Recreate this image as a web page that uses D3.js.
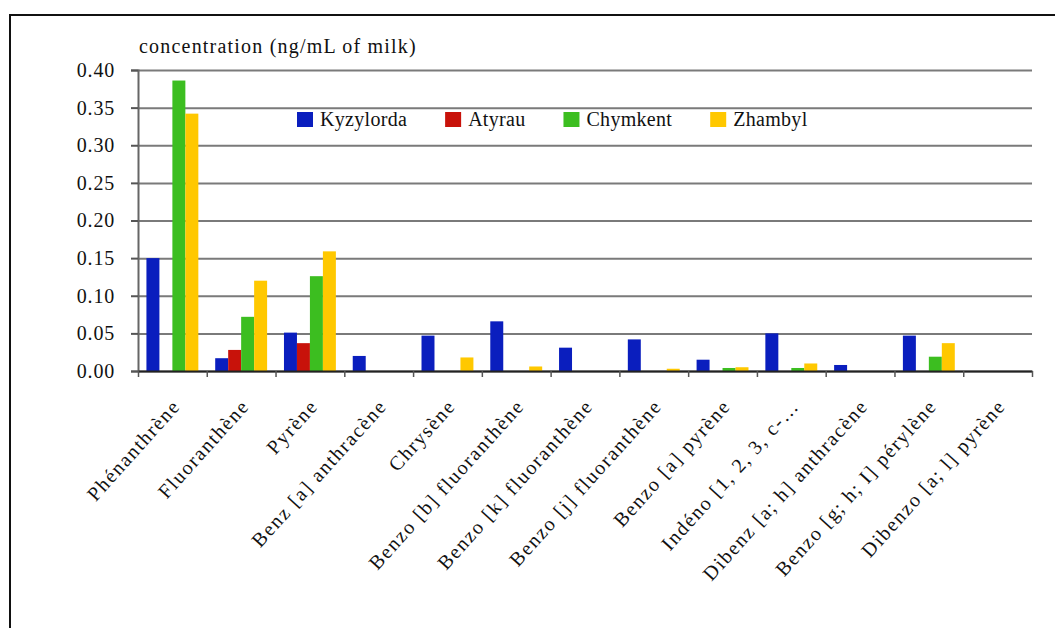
<!DOCTYPE html>
<html><head><meta charset="utf-8">
<script src="https://cdn.jsdelivr.net/npm/d3@7"></script>
<style>
body{margin:0;background:#fff;}
svg{display:block;}
svg text{font-family:'Liberation Serif','Times New Roman',Times,'DejaVu Serif',serif !important;fill:#111;}
</style></head>
<body><svg id="c" width="1055" height="628"></svg>
<script>
const categories = ["Phénanthrène","Fluoranthène","Pyrène","Benz [a] anthracène","Chrysène","Benzo [b] fluoranthène","Benzo [k] fluoranthène","Benzo [j] fluoranthène","Benzo [a] pyrène","Indéno [1, 2, 3, c-…","Dibenz [a; h] anthracène","Benzo [g; h; I] pérylène","Dibenzo [a; l] pyrène"];
const seriesNames = ["Kyzylorda","Atyrau","Chymkent","Zhambyl"];
const kyzylorda = [0.150,0.017,0.051,0.020,0.047,0.066,0.031,0.042,0.015,0.050,0.008,0.047,0];
const atyrau    = [0,0.028,0.037,0,0,0,0,0,0,0,0,0,0];
const chymkent  = [0.386,0.072,0.126,0,0,0,0,0,0.004,0.004,0,0.019,0];
const zhambyl   = [0.342,0.120,0.159,0,0.018,0.006,0,0.003,0.005,0.010,0,0.037,0];
const yTicks = [0,0.05,0.10,0.15,0.20,0.25,0.30,0.35,0.40];
const colors = ["#0a1ebe","#c8120a","#3cbe20","#ffc800"];
const seriesValues = [kyzylorda, atyrau, chymkent, zhambyl];

(function(){
const FONT = "'Liberation Serif','Times New Roman',Times,'DejaVu Serif',serif";
const svg = d3.select("#c");
// frame
svg.append("rect").attr("x",10).attr("y",15).attr("width",1100).attr("height",700)
  .attr("fill","none").attr("stroke","#111").attr("stroke-width",2);

const mLeft = 138, mRight = 1032, mTop = 70, mBottom = 371;
const x0 = d3.scaleBand().domain(categories).range([mLeft,mRight]).padding(0);
const x1 = d3.scaleBand().domain(seriesNames).range([0,x0.bandwidth()]).paddingInner(0).paddingOuter(0.65);
const y = d3.scaleLinear().domain([0,0.40]).range([mBottom,mTop]);

// gridlines
const grid = svg.append("g").attr("transform",`translate(${mLeft},0)`)
  .call(d3.axisLeft(y).tickValues(yTicks).tickSize(-(mRight-mLeft)).tickFormat(""));
grid.select(".domain").remove();
grid.selectAll("line").attr("stroke","#7a7a7a").attr("stroke-width",2);

// bars
const g = svg.append("g");
categories.forEach((c,i)=>{
  seriesNames.forEach((s,j)=>{
    const v = seriesValues[j][i];
    if(v>0){
      g.append("rect").attr("x",x0(c)+x1(s)).attr("width",x1.bandwidth())
       .attr("y",y(v)).attr("height",y(0)-y(v)).attr("fill",colors[j]);
    }
  });
});

// y axis
const ya = svg.append("g").attr("transform",`translate(${mLeft},0)`)
  .call(d3.axisLeft(y).tickValues(yTicks).tickSize(7).tickPadding(16).tickFormat(d3.format(".2f")));
ya.attr("font-family",FONT);
ya.select(".domain").attr("stroke","#666").attr("stroke-width",2);
ya.selectAll(".tick line").attr("stroke","#555").attr("stroke-width",2);
ya.selectAll("text").style("font-size","20px").style("letter-spacing","0.8px").attr("fill","#111");

// x axis line + boundary ticks
const edgeScale = d3.scaleLinear().domain([0,categories.length]).range([mLeft,mRight]);
const xe = svg.append("g").attr("transform",`translate(0,${mBottom})`)
  .call(d3.axisBottom(edgeScale).tickValues(d3.range(0,categories.length+1)).tickSize(6).tickFormat("").tickSizeOuter(0));
xe.select(".domain").attr("stroke","#222").attr("stroke-width",2);
xe.selectAll(".tick line").attr("stroke","#555").attr("stroke-width",1.5);

// x labels
const xa = svg.append("g").attr("transform",`translate(0,${mBottom})`)
  .call(d3.axisBottom(x0).tickSize(0).tickFormat(d=>d));
xa.attr("font-family",FONT);
xa.select(".domain").remove();
xa.selectAll("text")
  .style("font-size","20px").style("letter-spacing","1.6px")
  .attr("fill","#111").attr("text-anchor","end").attr("dy",null).attr("y",0)
  .attr("transform","translate(9,36) rotate(-48)");

// title
svg.append("text").attr("x",139).attr("y",53).attr("font-family",FONT).style("font-size","20px").style("letter-spacing","1.2px")
  .text("concentration (ng/mL of milk)");

// legend
const leg = svg.append("g").attr("font-family",FONT);
let lx = 297;
seriesNames.forEach((s,j)=>{
  leg.append("rect").attr("x",lx).attr("y",112).attr("width",16).attr("height",15).attr("fill",colors[j]);
  const t = leg.append("text").attr("x",lx+23).attr("y",126).style("font-size","20px").style("letter-spacing","0.3px").text(s);
  lx += 23 + t.node().getComputedTextLength() + 38;
});
})();
</script></body></html>
